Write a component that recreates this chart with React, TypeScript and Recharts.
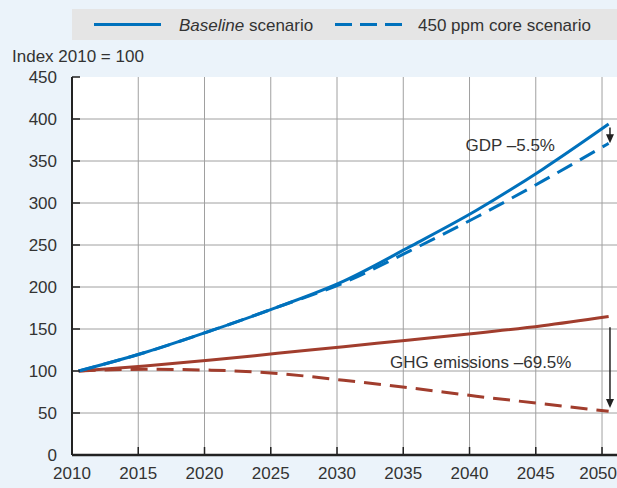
import { CartesianGrid, Line, LineChart, ReferenceDot, ReferenceLine, XAxis, YAxis } from "recharts";

const FONT = '"Liberation Sans", Arial, sans-serif';
const BLUE = "#0071bc";
const BROWN = "#a13d2d";
const INK = "#333";
const FS = 17;

const years = [2010, 2015, 2020, 2025, 2030, 2035, 2040, 2045, 2050];
const gdpBaseline = [100, 122, 148, 176, 207, 248, 291, 340, 394];
const gdp450 = [100, 122, 148, 176, 205, 243, 283, 326, 371];
const ghgBaseline = [100, 106, 113, 121, 129, 137, 145, 154, 165];
const ghg450 = [100, 102, 101, 97, 89, 80, 70, 61, 52];

const xTicks = [2010, 2015, 2020, 2025, 2030, 2035, 2040, 2045, 2050];
const yTicks = [0, 50, 100, 150, 200, 250, 300, 350, 400, 450];

// points sit at mid-year, gridlines at year starts
const data = years.map((y, i) => ({
  x: y + 0.5,
  gdpBase: gdpBaseline[i],
  gdp450: gdp450[i],
  ghgBase: ghgBaseline[i],
  ghg450: ghg450[i],
}));

const Arrow = (p: any) => {
  const { x1, y1, x2, y2 } = p;
  return (
    <g>
      <line x1={x1} y1={y1} x2={x2} y2={y2 - 6} stroke="#222" strokeWidth={1.5} />
      <polygon points={`${x2 - 4},${y2 - 9} ${x2 + 4},${y2 - 9} ${x2},${y2}`} fill="#222" />
    </g>
  );
};

const note = (txt: string) => (p: any) => (
  <text x={p.cx} y={p.cy} dominantBaseline="central" fontSize={FS} fontFamily={FONT} fill={INK}>
    {txt}
  </text>
);

// last label is pushed in so it stays on the page
const XTick = (p: any) => {
  const { x, y, payload } = p;
  const last = x + 19 > 617;
  return (
    <text x={last ? 617 : x} y={y} dy="0.71em" textAnchor={last ? "end" : "middle"} fontSize={FS} fontFamily={FONT} fill={INK}>
      {payload.value}
    </text>
  );
};

const Legend = () => (
  <svg width={545} height={31} style={{ position: "absolute", left: 72, top: 9, background: "#e5e5e5" }}>
    <line x1={22} y1={15.5} x2={89} y2={15.5} stroke={BLUE} strokeWidth={3} />
    <text x={107} y={16} dominantBaseline="central" fontSize={FS} fontFamily={FONT} fill={INK}>
      <tspan fontStyle="italic">Baseline</tspan> scenario
    </text>
    <line x1={263} y1={15.5} x2={330} y2={15.5} stroke={BLUE} strokeWidth={3} strokeDasharray="17 8" />
    <text x={346} y={16} dominantBaseline="central" fontSize={FS} fontFamily={FONT} fill={INK}>
      450 ppm core scenario
    </text>
  </svg>
);

export default function App() {
  return (
    <div style={{ position: "absolute", left: 0, top: 0, width: 617, height: 488, background: "#ebf3fa", fontFamily: FONT }}>
      <Legend />
      <div style={{ position: "absolute", left: 12, top: 46, fontSize: FS, color: INK, lineHeight: "22px" }}>
        Index 2010 = 100
      </div>
      <LineChart width={617} height={488} data={data} margin={{ top: 77, right: 0, bottom: 3, left: 0 }}>
        <CartesianGrid
          fill="#fff"
          stroke="#a0a0a0"
          horizontalValues={[50, 100, 150, 200, 250, 300, 350, 400]}
          verticalValues={[2015, 2020, 2025, 2030, 2035, 2040, 2045, 2050]}
        />
        <XAxis
          dataKey="x"
          type="number"
          domain={[2010, 2051.13]}
          ticks={xTicks}
          allowDataOverflow
          height={30}
          axisLine={{ stroke: "#222", strokeWidth: 2.5 }}
          tickLine={{ stroke: "#222", strokeWidth: 1.5 }}
          tickSize={-8}
          tickMargin={20}
          tick={XTick}
        />
        <YAxis
          type="number"
          domain={[0, 450]}
          ticks={yTicks}
          width={72}
          axisLine={{ stroke: "#222", strokeWidth: 2 }}
          tickLine={{ stroke: "#222", strokeWidth: 1.5 }}
          tickSize={-8}
          tickMargin={23}
          tick={{ fill: INK, fontSize: FS, fontFamily: FONT }}
        />
        <Line dataKey="ghgBase" stroke={BROWN} strokeWidth={3} dot={false} isAnimationActive={false} type="monotone" />
        <Line dataKey="ghg450" stroke={BROWN} strokeWidth={3} strokeDasharray="17 9" dot={false} isAnimationActive={false} type="monotone" />
        <Line dataKey="gdpBase" stroke={BLUE} strokeWidth={3} dot={false} isAnimationActive={false} type="monotone" />
        <Line dataKey="gdp450" stroke={BLUE} strokeWidth={3} strokeDasharray="17 9" dot={false} isAnimationActive={false} type="monotone" />
        <ReferenceLine segment={[{ x: 2050.6, y: 390 }, { x: 2050.6, y: 371 }]} shape={Arrow} ifOverflow="visible" />
        <ReferenceLine segment={[{ x: 2050.6, y: 152 }, { x: 2050.6, y: 56 }]} shape={Arrow} ifOverflow="visible" />
        <ReferenceDot x={2039.7} y={369} r={0} shape={note("GDP \u20135.5%")} ifOverflow="visible" />
        <ReferenceDot x={2034} y={110} r={0} shape={note("GHG emissions \u201369.5%")} ifOverflow="visible" />
      </LineChart>
    </div>
  );
}
